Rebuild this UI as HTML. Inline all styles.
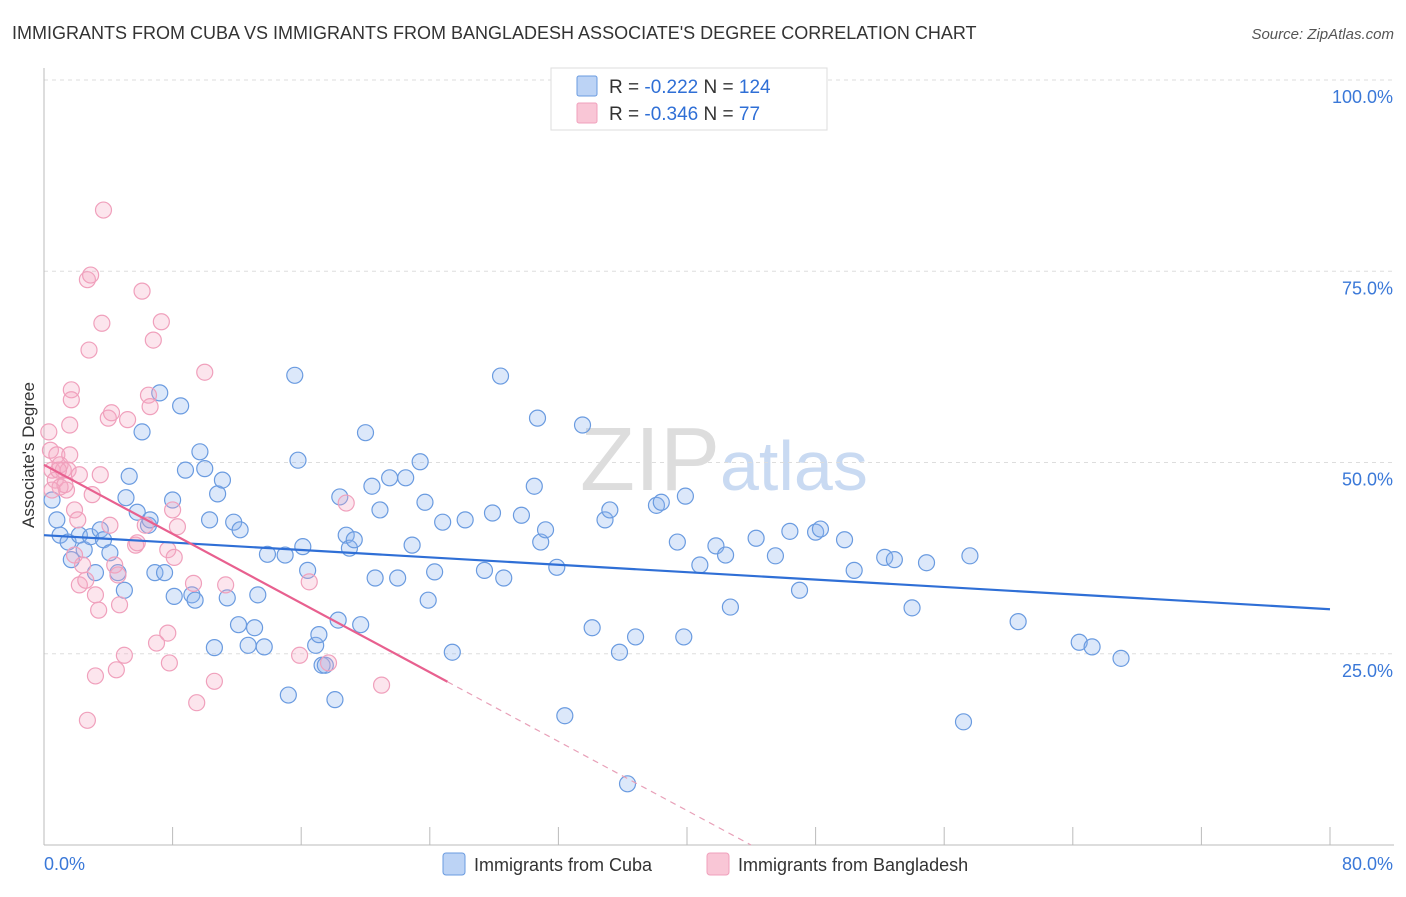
<!DOCTYPE html>
<html><head><meta charset="utf-8"><style>
body{margin:0;background:#fff;font-family:"Liberation Sans",sans-serif;}
svg text{font-family:"Liberation Sans",sans-serif;}
</style></head><body>
<svg id="chart" width="1406" height="892" xmlns="http://www.w3.org/2000/svg">
<text x="12" y="39" font-size="18" fill="#333">IMMIGRANTS FROM CUBA VS IMMIGRANTS FROM BANGLADESH ASSOCIATE'S DEGREE CORRELATION CHART</text>
<text x="1394" y="39" font-size="15" fill="#555" font-style="italic" text-anchor="end">Source: ZipAtlas.com</text>
<text x="720" y="490" font-size="90" fill="#ddd" text-anchor="end" font-family="Liberation Serif">ZIP</text>
<text x="720" y="490" font-size="70" fill="#c9daf2">atlas</text>
<g id="grid"></g>
<g id="axes"></g>
<g id="pts"></g>
<g id="lines"></g>
<text transform="translate(34,455) rotate(-90)" font-size="17" fill="#333" text-anchor="middle">Associate's Degree</text>
<g>
<rect x="551" y="68" width="276" height="62" fill="#fff" stroke="#ddd"/>
<rect x="577" y="76" width="20" height="20" fill="#bcd3f5" stroke="#6a9be0" rx="2"/>
<rect x="577" y="103" width="20" height="20" fill="#f9c6d6" stroke="#f0a0bc" rx="2"/>
<text x="609" y="93" font-size="19" fill="#333">R = <tspan fill="#2f6fd6">-0.222</tspan>   N = <tspan fill="#2f6fd6">124</tspan></text>
<text x="609" y="120" font-size="19" fill="#333">R = <tspan fill="#2f6fd6">-0.346</tspan>   N =  <tspan fill="#2f6fd6"> 77</tspan></text>
</g>
<g>
<rect x="443" y="853" width="22" height="22" fill="#bcd3f5" stroke="#6a9be0" rx="3"/>
<text x="474" y="871" font-size="18" fill="#333">Immigrants from Cuba</text>
<rect x="707" y="853" width="22" height="22" fill="#f9c6d6" stroke="#f0a0bc" rx="3"/>
<text x="738" y="871" font-size="18" fill="#333">Immigrants from Bangladesh</text>
</g>
</svg>
<script>
const yTicks=[25,50,75,100];
const yTickLabels=["25.0%","50.0%","75.0%","100.0%"];
const xTicks=[0,8,16,24,32,40,48,56,64,72,80];
const cubaX=[0.5,0.8,1.0,1.5,1.7,2.2,2.5,2.9,3.2,3.5,3.7,4.1,4.6,5.0,5.1,5.3,5.8,6.1,6.5,6.6,6.9,7.2,7.5,8.0,8.1,8.5,8.8,9.2,9.4,9.7,10.0,10.3,10.6,10.8,11.1,11.4,11.8,12.1,12.2,12.7,13.1,13.3,13.7,13.9,15.0,15.2,15.6,15.8,16.1,16.4,16.9,17.1,17.3,17.5,18.1,18.3,18.4,18.8,19.0,19.3,19.7,20.0,20.4,20.6,20.9,21.5,22.0,22.5,22.9,23.4,23.7,23.9,24.3,24.8,25.4,26.2,27.4,27.9,28.4,28.6,29.7,30.5,30.7,30.9,31.2,31.9,32.4,33.5,34.1,34.9,35.2,35.8,36.3,36.8,38.1,38.4,39.4,39.8,39.9,40.8,41.8,42.4,42.7,44.3,45.5,46.4,47.0,48.0,48.3,49.8,50.4,52.3,52.9,54.0,54.9,57.2,57.6,60.6,64.4,65.2,67.0];
const cubaY=[45.1,42.5,40.5,39.6,37.3,40.5,38.6,40.3,35.6,41.2,39.9,38.2,35.6,33.3,45.4,48.2,43.5,54.0,41.8,42.5,35.6,59.1,35.6,45.1,32.5,57.4,49.0,32.7,32.0,51.4,49.2,42.5,25.8,45.9,47.7,32.3,42.2,28.8,41.2,26.1,28.4,32.7,25.9,38.0,37.9,19.6,61.4,50.3,39.0,35.9,26.1,27.5,23.5,23.5,19.0,29.4,45.5,40.5,38.8,39.9,28.8,53.9,46.9,34.9,43.8,48.0,34.9,48.0,39.2,50.1,44.8,32.0,35.7,42.2,25.2,42.5,35.9,43.4,61.3,34.9,43.1,46.9,55.8,39.6,41.2,36.3,16.9,54.9,28.4,42.5,43.8,25.2,8.0,27.2,44.4,44.8,39.6,27.2,45.6,36.6,39.1,37.9,31.1,40.1,37.8,41.0,33.3,40.9,41.3,39.9,35.9,37.6,37.3,31.0,36.9,16.1,37.8,29.2,26.5,25.9,24.4];
const bangX=[0.3,0.4,0.5,0.7,0.8,1.0,1.2,1.4,1.5,1.6,1.7,1.7,1.9,1.9,2.1,2.2,2.4,2.6,2.7,2.8,2.9,3.0,3.2,3.4,3.5,3.6,3.7,4.0,4.1,4.2,4.4,4.5,4.6,4.7,5.0,5.2,5.7,5.8,6.1,6.3,6.5,6.6,6.8,7.0,7.3,7.7,7.7,7.8,8.0,8.1,8.3,9.3,9.5,10.0,10.6,11.3,15.9,16.5,17.7,18.8,21.0,1.0,1.3,2.7,3.2,1.6,0.5,0.9,2.2];
const bangY=[54.0,51.6,49.0,47.7,51.0,49.7,49.0,46.4,49.0,51.0,59.5,58.2,43.8,37.9,42.5,34.0,36.6,34.6,73.9,64.7,74.5,45.8,32.7,30.7,48.4,68.2,83.0,55.8,41.8,56.5,36.6,22.9,35.3,31.4,24.8,55.6,39.2,39.5,72.4,41.8,58.8,57.3,66.0,26.4,68.4,27.7,38.6,23.8,43.8,37.6,41.6,34.2,18.6,61.8,21.4,34.0,24.8,34.4,23.8,44.7,20.9,46.8,47.1,16.3,22.1,54.9,46.4,49.0,48.4];
const cubaFit=[40.5,-0.121];
const bangFit=[49.7,-1.13];
const bangSolidEnd=25.1;
const X=v=>44+v/80*1286, Y=v=>845-v/100*765;
const NS="http://www.w3.org/2000/svg";
function mk(parent,tag,attrs){const e=document.createElementNS(NS,tag);for(const k in attrs)e.setAttribute(k,attrs[k]);document.getElementById(parent).appendChild(e);return e;}
yTicks.forEach((t,i)=>{
 const g=mk('grid','line',{x1:44,x2:1394,y1:Y(t),y2:Y(t),stroke:'#ddd','stroke-dasharray':'4,4'});
 
 
 const l=mk('grid','text',{x:1393,y:Y(t)+23,'font-size':18,fill:'#3a78d8','text-anchor':'end'});
 l.textContent=yTickLabels[i];
 
 
});
const ax=mk('axes','line',{x1:44,x2:44,y1:68,y2:845,stroke:'#bbb'});


const bx=mk('axes','line',{x1:44,x2:1394,y1:845,y2:845,stroke:'#bbb'});


xTicks.forEach(t=>{
 const k=mk('axes','line',{x1:X(t),x2:X(t),y1:827,y2:845,stroke:'#bbb'});
 
 
});
const xl0=mk('axes','text',{x:44,y:870,'font-size':18,fill:'#3a78d8'});
xl0.textContent=xTicks[0].toFixed(1)+'%';


const xl1=mk('axes','text',{x:1393,y:870,'font-size':18,fill:'#3a78d8','text-anchor':'end'});
xl1.textContent=xTicks[xTicks.length-1].toFixed(1)+'%';


cubaX.forEach((v,i)=>{
 const c=mk('pts','circle',{cx:X(v),cy:Y(cubaY[i]),r:8,fill:'rgba(140,180,240,0.3)',stroke:'#6a9be0','stroke-width':1.2});
 
 
});
bangX.forEach((v,i)=>{
 const c=mk('pts','circle',{cx:X(v),cy:Y(bangY[i]),r:8,fill:'rgba(245,170,195,0.3)',stroke:'#f0a0bc','stroke-width':1.2});
 
 
});
const l1=mk('lines','line',{x1:X(0),y1:Y(cubaFit[0]),x2:X(80),y2:Y(cubaFit[0]+cubaFit[1]*80),stroke:'#2f6fd6','stroke-width':2.2});


const l2=mk('lines','line',{x1:X(0),y1:Y(bangFit[0]),x2:X(bangSolidEnd),y2:Y(bangFit[0]+bangFit[1]*bangSolidEnd),stroke:'#e8608f','stroke-width':2.2});


const xz=-bangFit[0]/bangFit[1];
const l3=mk('lines','line',{x1:X(bangSolidEnd),y1:Y(bangFit[0]+bangFit[1]*bangSolidEnd),x2:X(xz),y2:Y(0),stroke:'#e8a0b8','stroke-width':1.2,'stroke-dasharray':'6,5'});


</script>
</body></html>
